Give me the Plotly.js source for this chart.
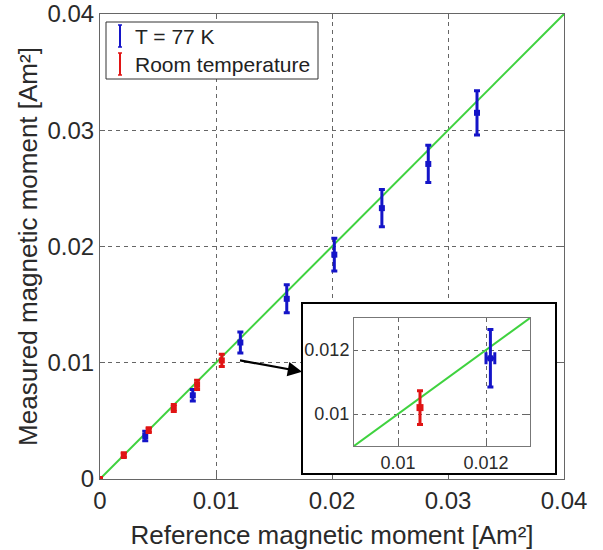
<!DOCTYPE html>
<html>
<head>
<meta charset="utf-8">
<script src="https://cdn.plot.ly/plotly-3.0.1.min.js"></script>
<style>html,body{margin:0;padding:0;background:#fff;}#chart{width:603px;height:550px;}</style>
</head>
<body>
<div id="chart"></div>
<script>
// ---- data ----
var coldRef = [0.0039, 0.0080, 0.0121, 0.0161, 0.0202, 0.0243, 0.0283, 0.0325];
var coldMeas = [0.0037, 0.0072, 0.01174, 0.0155, 0.0193, 0.0233, 0.0271, 0.0315];
var coldErr = [0.0004, 0.0005, 0.0009, 0.0012, 0.0014, 0.0016, 0.0016, 0.0019];
var coldRefErr = [0.0001, 0.0001, 0.0001, 0.0001, 0.0001, 0.0001, 0.0001, 0.0001];

var roomRef = [0.0, 0.00205, 0.0042, 0.00636, 0.00837, 0.0105];
var roomMeas = [0.0, 0.00206, 0.0042, 0.0061, 0.0081, 0.0102];
var roomErr = [0.0001, 0.0002, 0.0002, 0.0003, 0.0004, 0.00053];

var idealLine = [0, 0.04];

var mainTicks = [0, 0.01, 0.02, 0.03, 0.04];
var mainTickText = ['0', '0.01', '0.02', '0.03', '0.04'];
var insetTicks = [0.01, 0.012];
var insetTickText = ['0.01', '0.012'];

var legendLabels = ['T = 77 K', 'Room temperature'];
var xTitle = 'Reference magnetic moment [Am²]';
var yTitle = 'Measured magnetic moment [Am²]';

// ---- styling ----
var FONT = 'Liberation Sans, Arial, sans-serif';
var BLUE = '#1414c8', RED = '#e01414', GREEN = '#3fd23f';
var TXT = '#2a2a2a';
var L = 100, R = 39, T = 14, B = 71, W = 603 - L - R, H = 550 - T - B;
function px(x) { return (x - L) / W; }
function py(y) { return (550 - B - y) / H; }

var traces = [
  // main plot
  {x: idealLine, y: idealLine, mode: 'lines', line: {color: GREEN, width: 2}, xaxis: 'x', yaxis: 'y', hoverinfo: 'skip'},
  {x: coldRef, y: coldMeas, mode: 'markers', marker: {symbol: 'square', size: 6, color: BLUE},
   error_y: {type: 'data', array: coldErr, visible: true, color: BLUE, thickness: 3, width: 3},
   xaxis: 'x', yaxis: 'y'},
  {x: roomRef, y: roomMeas, mode: 'markers', marker: {symbol: 'square', size: 6, color: RED},
   error_y: {type: 'data', array: roomErr, visible: true, color: RED, thickness: 3, width: 3},
   xaxis: 'x', yaxis: 'y'},
  // inset frame subplot (white background)
  {x: [null], y: [null], mode: 'markers', xaxis: 'x2', yaxis: 'y2', hoverinfo: 'skip'},
  // inset
  {x: idealLine, y: idealLine, mode: 'lines', line: {color: GREEN, width: 2}, xaxis: 'x3', yaxis: 'y3', hoverinfo: 'skip'},
  {x: coldRef, y: coldMeas, mode: 'markers', marker: {symbol: 'square', size: 6, color: BLUE},
   error_y: {type: 'data', array: coldErr, visible: true, color: BLUE, thickness: 3, width: 3},
   error_x: {type: 'data', array: coldRefErr, visible: true, color: BLUE, thickness: 3, width: 6},
   xaxis: 'x3', yaxis: 'y3'},
  {x: roomRef, y: roomMeas, mode: 'markers', marker: {symbol: 'square', size: 7, color: RED},
   error_y: {type: 'data', array: roomErr, visible: true, color: RED, thickness: 3, width: 3},
   xaxis: 'x3', yaxis: 'y3'}
];

var gridStyle = {showgrid: true, gridcolor: '#666', gridwidth: 1, griddash: '4px,4px', zeroline: false,
  showline: true, mirror: 'ticks', linecolor: '#666', linewidth: 1, ticks: 'inside', ticklen: 5, tickcolor: '#666'};

function ax(extra) { return Object.assign({}, gridStyle, extra); }

var layout = {
  width: 603, height: 550,
  margin: {l: L, r: R, t: T, b: B, pad: 0},
  paper_bgcolor: '#fff', plot_bgcolor: '#fff',
  showlegend: false,
  font: {family: FONT, color: TXT, size: 21},
  xaxis: ax({domain: [0, 1], range: [0, 0.04], tickvals: mainTicks, ticktext: mainTickText, anchor: 'y',
    tickfont: {size: 24, color: TXT},
    title: {text: xTitle, font: {size: 26, color: TXT}, standoff: 16}}),
  yaxis: ax({domain: [0, 1], range: [0, 0.04], tickvals: mainTicks, ticktext: mainTickText, anchor: 'x',
    tickfont: {size: 24, color: TXT},
    title: {text: yTitle, font: {size: 26, color: TXT}, standoff: 2}}),
  xaxis2: {domain: [px(303), px(555)], range: [0, 1], anchor: 'y2', showgrid: false, zeroline: false,
    showticklabels: false, ticks: '', showline: true, mirror: true, linecolor: '#000', linewidth: 2, fixedrange: true},
  yaxis2: {domain: [py(473), py(304)], range: [0, 1], anchor: 'x2', showgrid: false, zeroline: false,
    showticklabels: false, ticks: '', showline: true, mirror: true, linecolor: '#000', linewidth: 2, fixedrange: true},
  xaxis3: ax({domain: [px(354), px(530)], range: [0.009, 0.013], tickvals: insetTicks, ticktext: insetTickText,
    anchor: 'y3', ticklen: 4, tickfont: {size: 18, color: TXT}, linecolor: '#777'}),
  yaxis3: ax({domain: [py(446), py(318)], range: [0.009, 0.013], tickvals: insetTicks, ticktext: insetTickText,
    anchor: 'x3', ticklen: 4, tickfont: {size: 18, color: TXT}, linecolor: '#777'}),
  shapes: [
    // legend box
    {type: 'rect', xref: 'paper', yref: 'paper', x0: px(106), x1: px(318), y0: py(79), y1: py(22),
     line: {color: '#333', width: 1}, fillcolor: '#fff', layer: 'above'},
    // legend I-beam icons
    {type: 'line', xref: 'paper', yref: 'paper', x0: px(120), x1: px(120), y0: py(47), y1: py(25), line: {color: BLUE, width: 2}},
    {type: 'line', xref: 'paper', yref: 'paper', x0: px(118), x1: px(122), y0: py(25), y1: py(25), line: {color: BLUE, width: 1.5}},
    {type: 'line', xref: 'paper', yref: 'paper', x0: px(118), x1: px(122), y0: py(47), y1: py(47), line: {color: BLUE, width: 1.5}},
    {type: 'line', xref: 'paper', yref: 'paper', x0: px(120), x1: px(120), y0: py(75), y1: py(53), line: {color: RED, width: 2}},
    {type: 'line', xref: 'paper', yref: 'paper', x0: px(118), x1: px(122), y0: py(53), y1: py(53), line: {color: RED, width: 1.5}},
    {type: 'line', xref: 'paper', yref: 'paper', x0: px(118), x1: px(122), y0: py(75), y1: py(75), line: {color: RED, width: 1.5}}
  ],
  annotations: [
    {xref: 'paper', yref: 'paper', x: px(133), y: py(37), xanchor: 'left', yanchor: 'middle', showarrow: false,
     text: legendLabels[0], font: {family: FONT, size: 21, color: '#222'}},
    {xref: 'paper', yref: 'paper', x: px(133), y: py(65), xanchor: 'left', yanchor: 'middle', showarrow: false,
     text: legendLabels[1], font: {family: FONT, size: 21, color: '#222'}},
    // arrow pointing from the main plot to the inset
    {xref: 'x', yref: 'y', axref: 'x', ayref: 'y', x: 0.01742, y: 0.00923, ax: 0.01194, ay: 0.01023,
     showarrow: true, arrowhead: 2, arrowsize: 1.3, arrowwidth: 2.2, arrowcolor: '#000', text: ''}
  ]
};

Plotly.newPlot('chart', traces, layout, {displayModeBar: false, staticPlot: true});
</script>
</body>
</html>
